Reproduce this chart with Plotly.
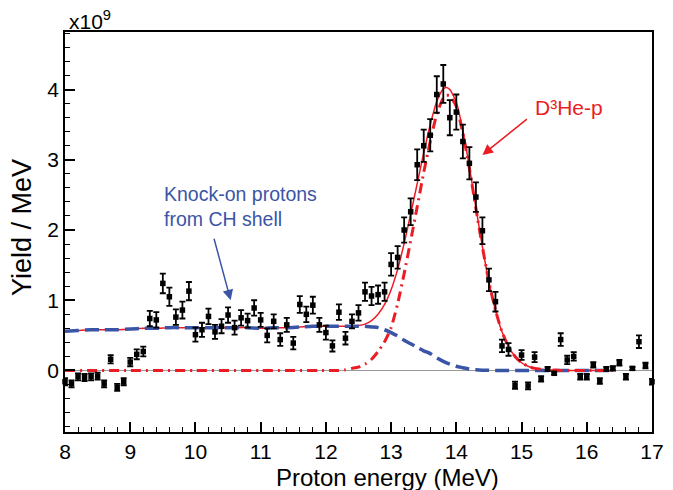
import plotly.graph_objects as go

# ---- data points (Proton energy in MeV, yield in 1e9 / MeV) ----
energy = [8.0, 8.1, 8.2, 8.3, 8.4, 8.5, 8.6, 8.7, 8.8, 8.9,
          9.0, 9.1, 9.2, 9.3, 9.4, 9.5, 9.6, 9.7, 9.8, 9.9,
          10.0, 10.1, 10.2, 10.3, 10.4, 10.5, 10.6, 10.7, 10.8, 10.9,
          11.0, 11.1, 11.2, 11.3, 11.4, 11.5, 11.6, 11.7, 11.8, 11.9,
          12.0, 12.1, 12.2, 12.3, 12.4, 12.5, 12.6, 12.7, 12.8, 12.9,
          13.0, 13.1, 13.2, 13.3, 13.4, 13.5, 13.6, 13.7, 13.8, 13.9,
          14.0, 14.1, 14.2, 14.3, 14.4, 14.5, 14.6, 14.7, 14.8, 14.9,
          15.0, 15.1, 15.2, 15.3, 15.4, 15.5, 15.6, 15.7, 15.8, 15.9,
          16.0, 16.1, 16.2, 16.3, 16.4, 16.5, 16.6, 16.7, 16.8, 16.9,
          17.0]
yield_ = [-0.16, -0.19, -0.09, -0.10, -0.09, -0.08, -0.19, 0.16, -0.24, -0.16,
          0.12, 0.23, 0.27, 0.74, 0.72, 1.24, 1.05, 0.76, 0.86, 1.13,
          0.51, 0.58, 0.77, 0.55, 0.63, 0.79, 0.61, 0.75, 0.71, 0.89,
          0.72, 0.50, 0.70, 0.44, 0.65, 0.39, 0.94, 0.80, 0.93, 0.65,
          0.54, 0.35, 0.83, 0.46, 0.70, 0.82, 1.12, 1.06, 1.08, 1.12,
          1.51, 1.61, 2.00, 2.26, 2.93, 3.20, 3.35, 3.93, 4.08, 3.60,
          3.68, 3.26, 2.95, 2.47, 1.99, 1.29, 0.98, 0.35, 0.30, -0.21,
          0.22, -0.22, 0.19, -0.12, 0.02, -0.04, 0.44, 0.15, 0.20, -0.09,
          -0.09, 0.08, -0.15, 0.02, 0.03, 0.11, -0.09, 0.03, 0.41, 0.07,
          -0.16]
yield_err = [0.05, 0.05, 0.05, 0.05, 0.05, 0.05, 0.05, 0.06, 0.05, 0.05,
             0.06, 0.07, 0.07, 0.11, 0.11, 0.14, 0.13, 0.11, 0.12, 0.13,
             0.10, 0.10, 0.11, 0.10, 0.10, 0.11, 0.10, 0.11, 0.10, 0.11,
             0.10, 0.10, 0.10, 0.09, 0.10, 0.09, 0.12, 0.11, 0.12, 0.10,
             0.10, 0.08, 0.11, 0.09, 0.10, 0.11, 0.13, 0.13, 0.13, 0.13,
             0.16, 0.16, 0.18, 0.19, 0.22, 0.23, 0.23, 0.26, 0.27, 0.25,
             0.25, 0.24, 0.23, 0.21, 0.19, 0.16, 0.14, 0.09, 0.09, 0.05,
             0.07, 0.05, 0.07, 0.04, 0.03, 0.02, 0.09, 0.06, 0.06, 0.04,
             0.04, 0.04, 0.04, 0.03, 0.03, 0.04, 0.04, 0.02, 0.09, 0.04,
             0.04]

# ---- knock-on (CH shell) component, blue dashed ----
knock_x = [8.0, 8.2, 8.4, 8.6, 8.8, 9.0, 9.2, 9.4, 9.6, 9.8, 10.0, 10.2, 10.4,
           10.6, 10.8, 11.0, 11.2, 11.4, 11.6, 11.8, 12.0, 12.2, 12.4, 12.6,
           12.7, 12.8, 12.9, 13.0, 13.1, 13.2, 13.3, 13.4, 13.5, 13.6, 13.7,
           13.8, 13.9, 14.0, 14.1, 14.2, 14.3, 14.4, 14.6, 15.0, 15.5, 16.0, 16.4]
knock_y = [0.56, 0.57, 0.58, 0.58, 0.58, 0.59, 0.60, 0.60, 0.61, 0.61, 0.61, 0.61, 0.61,
           0.61, 0.61, 0.60, 0.61, 0.61, 0.62, 0.63, 0.63, 0.63, 0.63, 0.63,
           0.62, 0.61, 0.58, 0.54, 0.49, 0.43, 0.38, 0.33, 0.28, 0.24, 0.18,
           0.13, 0.09, 0.06, 0.04, 0.02, 0.01, 0.005, 0.0, 0.0, 0.0, 0.0, 0.0]

# ---- total fit, red solid ----
total_x = [8.0, 8.2, 8.4, 8.6, 8.8, 9.0, 9.2, 9.4, 9.6, 9.8, 10.0, 10.2, 10.4,
           10.6, 10.8, 11.0, 11.2, 11.4, 11.6, 11.8, 12.0, 12.2, 12.4, 12.5,
           12.6, 12.7, 12.8, 12.9, 13.0, 13.1, 13.2, 13.3, 13.4, 13.5, 13.6,
           13.7, 13.8, 13.85, 13.9, 14.0, 14.1, 14.2, 14.3, 14.4, 14.5, 14.6,
           14.7, 14.8, 14.9, 15.0, 15.1, 15.2, 15.4, 15.6, 16.0, 16.4]
total_y = [0.56, 0.57, 0.58, 0.58, 0.58, 0.59, 0.60, 0.60, 0.61, 0.61, 0.61, 0.61, 0.61,
           0.61, 0.61, 0.60, 0.61, 0.61, 0.62, 0.63, 0.63, 0.63, 0.63, 0.64,
           0.66, 0.71, 0.80, 0.94, 1.15, 1.44, 1.81, 2.23, 2.66, 3.10, 3.50,
           3.83, 4.01, 4.03, 4.00, 3.82, 3.42, 2.90, 2.32, 1.76, 1.26, 0.86,
           0.55, 0.34, 0.20, 0.11, 0.06, 0.03, 0.01, 0.0, 0.0, 0.0]

# ---- D3He-p component, red dash-dot ----
d3hep_x = [8.0, 9.0, 10.0, 11.0, 12.0, 12.2, 12.3, 12.4, 12.5, 12.6, 12.7,
           12.8, 12.9, 13.0, 13.1, 13.2, 13.3, 13.4, 13.5, 13.6, 13.7, 13.8,
           13.85, 13.9, 14.0, 14.1, 14.2, 14.3, 14.4, 14.5, 14.6, 14.7, 14.8,
           14.9, 15.0, 15.1, 15.2, 15.4, 15.6, 16.0, 16.4]
d3hep_y = [0.0, 0.0, 0.0, 0.0, 0.0, 0.0, 0.01, 0.03, 0.05, 0.09, 0.16,
           0.27, 0.41, 0.61, 0.95, 1.38, 1.85, 2.33, 2.82, 3.26, 3.65, 3.88,
           3.92, 3.91, 3.76, 3.38, 2.88, 2.31, 1.76, 1.26, 0.86, 0.55, 0.34,
           0.20, 0.11, 0.06, 0.03, 0.01, 0.0, 0.0, 0.0]

x_ticks = [8, 9, 10, 11, 12, 13, 14, 15, 16, 17]
y_ticks = [0, 1, 2, 3, 4]

RED = "#ec1c24"
BLUE = "#3a55a6"
FONT = "Liberation Sans, Arial, Helvetica, sans-serif"

W, H = 673, 490
ML, MR, MT, MB = 65, 21, 32, 58
PW, PH = W - ML - MR, H - MT - MB


def px_to_paper(px, py):
    return (px - ML) / PW, (H - MB - py) / PH


fig = go.Figure()
fig.add_trace(go.Scatter(x=total_x, y=total_y, mode="lines",
                         line=dict(color=RED, width=1.5, shape="spline", smoothing=0.6),
                         showlegend=False, hoverinfo="skip"))
fig.add_trace(go.Scatter(x=knock_x, y=knock_y, mode="lines",
                         line=dict(color=BLUE, width=3.5, dash="14px,6px", shape="spline", smoothing=0.6),
                         showlegend=False, hoverinfo="skip"))
fig.add_trace(go.Scatter(x=d3hep_x, y=d3hep_y, mode="lines",
                         line=dict(color=RED, width=3, dash="10px,5px,2px,5px", shape="spline", smoothing=0.6),
                         showlegend=False, hoverinfo="skip"))
fig.add_trace(go.Scatter(x=energy, y=yield_, mode="markers",
                         marker=dict(symbol="square", size=5.5, color="black"),
                         error_y=dict(type="data", array=yield_err, color="black", thickness=1.8, width=3),
                         cliponaxis=False, showlegend=False))

fig.add_annotation(x=14.40, y=3.07, ax=46, ay=-37, xref="x", yref="y",
                   axref="pixel", ayref="pixel", text="", showarrow=True,
                   arrowhead=2, arrowsize=1.4, arrowwidth=1.5, arrowcolor=RED)
fig.add_annotation(x=15.72, y=3.75, xref="x", yref="y", text="D³He-p",
                   showarrow=False, font=dict(family=FONT, size=21, color=RED))
fig.add_annotation(x=10.54, y=1.0, ax=-17, ay=-63, xref="x", yref="y",
                   axref="pixel", ayref="pixel", text="", showarrow=True,
                   arrowhead=2, arrowsize=1.4, arrowwidth=1.5, arrowcolor=BLUE)
fig.add_annotation(x=9.48, y=2.34, xref="x", yref="y", xanchor="left", yanchor="middle",
                   align="left", text="Knock-on protons<br>from CH shell",
                   showarrow=False, font=dict(family=FONT, size=19.5, color=BLUE))
fig.add_annotation(x=0, y=1.0, xref="paper", yref="paper", xanchor="left", yanchor="bottom",
                   xshift=2, yshift=-3, text="x10<sup>9</sup>", showarrow=False,
                   font=dict(family=FONT, size=21, color="black"))

# axis titles, placed as in the reference
tx, ty = px_to_paper(387.5, 477)
fig.add_annotation(x=tx, y=ty, xref="paper", yref="paper", xanchor="center", yanchor="middle",
                   text="Proton energy (MeV)", showarrow=False,
                   font=dict(family=FONT, size=24, color="black"))
yx, yy = px_to_paper(22, 228)
fig.add_annotation(x=yx, y=yy, xref="paper", yref="paper", xanchor="center", yanchor="middle",
                   text="Yield / MeV", textangle=-90, showarrow=False,
                   font=dict(family=FONT, size=27, color="black"))

fig.update_layout(
    width=W, height=H,
    margin=dict(l=ML, r=MR, t=MT, b=MB),
    paper_bgcolor="white", plot_bgcolor="white",
    font=dict(family=FONT, size=20, color="black"),
)
fig.update_xaxes(range=[8, 17], tickvals=x_ticks, ticks="inside", ticklen=10, tickwidth=1.5,
                 tickcolor="black", showline=True, linecolor="black", linewidth=1.8,
                 mirror=True, showgrid=False, zeroline=False, automargin=False,
                 minor=dict(dtick=0.2, tick0=8, ticks="inside", ticklen=5, tickwidth=1.2, tickcolor="black"),
                 tickfont=dict(size=21))
fig.update_yaxes(range=[-0.876, 4.82], tickvals=y_ticks, ticks="inside", ticklen=10, tickwidth=1.5,
                 tickcolor="black", showline=True, linecolor="black", linewidth=1.8,
                 mirror=True, showgrid=False, zeroline=True, zerolinecolor="#9a9a9a", zerolinewidth=1,
                 automargin=False,
                 minor=dict(dtick=0.2, tick0=0, ticks="inside", ticklen=5, tickwidth=1.2, tickcolor="black"),
                 tickfont=dict(size=21))

fig.write_html("out.html")
